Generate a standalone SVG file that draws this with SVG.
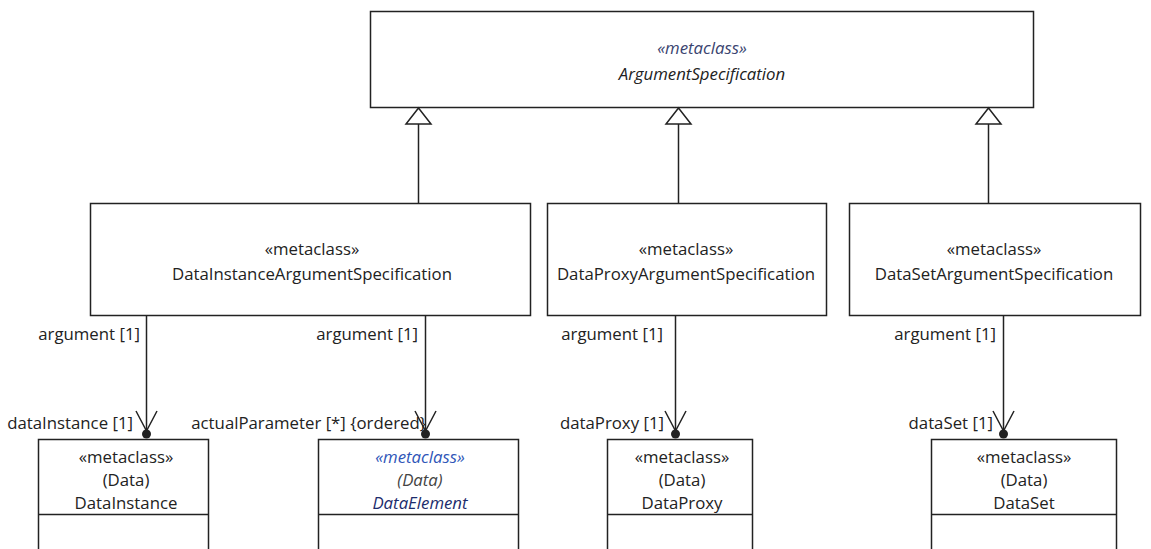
<svg xmlns="http://www.w3.org/2000/svg" width="1151" height="549" viewBox="0 0 1151 549">
<style>
text{font-family:"Open Sans","DejaVu Sans",sans-serif;font-size:16.8px;fill:#222;}
.c{text-anchor:middle;}
.r{text-anchor:end;}
.i{font-style:italic;}
.box{fill:#fff;stroke:#222;stroke-width:1.5;}
.ln{fill:none;stroke:#222;stroke-width:1.5;}
.tri{fill:#fff;stroke:#222;stroke-width:1.5;}
</style>
<rect width="1151" height="549" fill="#fff"/>
<g id="ArgumentSpecification">
<rect class="box" x="370.5" y="11.5" width="663" height="96"/>
<text class="c i" x="702" y="54" style="fill:#3a4470">«metaclass»</text>
<text class="c i" x="702" y="80">ArgumentSpecification</text>
</g>
<g id="DataInstanceArgumentSpecification">
<rect class="box" x="90.5" y="203.5" width="440" height="112"/>
<text class="c" x="312" y="255">«metaclass»</text>
<text class="c" x="312" y="280">DataInstanceArgumentSpecification</text>
</g>
<g id="DataProxyArgumentSpecification">
<rect class="box" x="547.5" y="203.5" width="279" height="112"/>
<text class="c" x="686" y="255">«metaclass»</text>
<text class="c" x="686" y="280">DataProxyArgumentSpecification</text>
</g>
<g id="DataSetArgumentSpecification">
<rect class="box" x="849.5" y="203.5" width="291" height="112"/>
<text class="c" x="994" y="255">«metaclass»</text>
<text class="c" x="994" y="280">DataSetArgumentSpecification</text>
</g>
<g id="DataInstance">
<rect class="box" x="38.5" y="439.5" width="170" height="120"/>
<line class="ln" x1="38" y1="514.5" x2="209" y2="514.5"/>
<text class="c" x="126" y="463">«metaclass»</text>
<text class="c" x="126" y="486">(Data)</text>
<text class="c" x="126" y="509">DataInstance</text>
</g>
<g id="DataElement">
<rect class="box" x="318.5" y="439.5" width="200" height="120"/>
<line class="ln" x1="318" y1="514.5" x2="519" y2="514.5"/>
<text class="c i" x="420" y="463" style="fill:#2f56b8">«metaclass»</text>
<text class="c i" x="420" y="486" style="fill:#444">(Data)</text>
<text class="c i" x="420" y="509" style="fill:#1c2c6c">DataElement</text>
</g>
<g id="DataProxy">
<rect class="box" x="607.5" y="439.5" width="145" height="120"/>
<line class="ln" x1="607" y1="514.5" x2="753" y2="514.5"/>
<text class="c" x="682" y="463">«metaclass»</text>
<text class="c" x="682" y="486">(Data)</text>
<text class="c" x="682" y="509">DataProxy</text>
</g>
<g id="DataSet">
<rect class="box" x="931.5" y="439.5" width="185" height="120"/>
<line class="ln" x1="931" y1="514.5" x2="1117" y2="514.5"/>
<text class="c" x="1024" y="463">«metaclass»</text>
<text class="c" x="1024" y="486">(Data)</text>
<text class="c" x="1024" y="509">DataSet</text>
</g>
<g id="connectors">
<g id="gen1">
<path class="ln" d="M418.5,203 V124"/>
<path class="tri" d="M418.5,108 L406,124 L431,124 Z"/>
</g>
<g id="gen2">
<path class="ln" d="M678.5,203 V124"/>
<path class="tri" d="M678.5,108 L666,124 L691,124 Z"/>
</g>
<g id="gen3">
<path class="ln" d="M988.5,203 V124"/>
<path class="tri" d="M988.5,108 L976,124 L1001,124 Z"/>
</g>
<g id="assoc1">
<path class="ln" d="M146.5,316 V434"/>
<path class="ln" d="M136,411 L146.5,431 L157,411"/>
<circle cx="146.5" cy="434" r="4.5" fill="#222"/>
<text class="r" x="140" y="340">argument [1]</text>
<text class="r" x="133" y="429">dataInstance [1]</text>
</g>
<g id="assoc2">
<path class="ln" d="M425.5,316 V434"/>
<path class="ln" d="M415,411 L425.5,431 L436,411"/>
<circle cx="425.5" cy="434" r="4.5" fill="#222"/>
<text class="r" x="418" y="340">argument [1]</text>
<text class="r" x="426" y="429">actualParameter [*] {ordered}</text>
</g>
<g id="assoc3">
<path class="ln" d="M675.5,316 V434"/>
<path class="ln" d="M665,411 L675.5,431 L686,411"/>
<circle cx="675.5" cy="434" r="4.5" fill="#222"/>
<text class="r" x="663" y="340">argument [1]</text>
<text class="r" x="664" y="429">dataProxy [1]</text>
</g>
<g id="assoc4">
<path class="ln" d="M1003.5,316 V434"/>
<path class="ln" d="M993,411 L1003.5,431 L1014,411"/>
<circle cx="1003.5" cy="434" r="4.5" fill="#222"/>
<text class="r" x="996" y="340">argument [1]</text>
<text class="r" x="993" y="429">dataSet [1]</text>
</g>
</g>
</svg>
